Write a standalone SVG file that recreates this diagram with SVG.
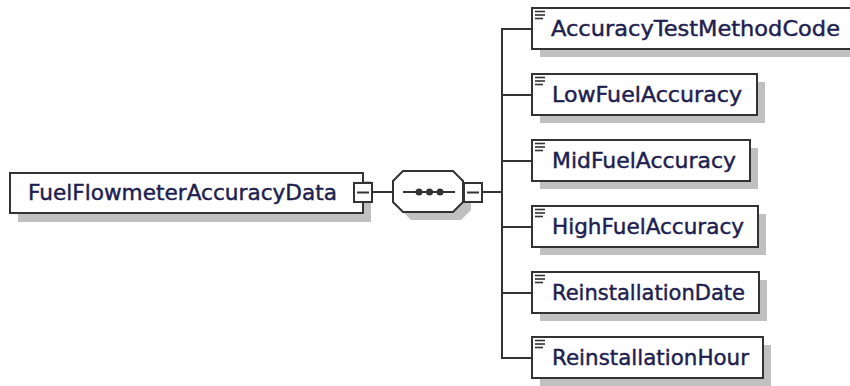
<svg xmlns="http://www.w3.org/2000/svg" width="850" height="386" viewBox="0 0 850 386">
<style>
.shadow{fill:#c0c0c0;stroke:none}
.box{fill:#ffffff;stroke:#333333;stroke-width:2}
.lbl{font-family:"DejaVu Sans",Verdana,sans-serif;font-size:21.5px;fill:#1e1e50;stroke:#1e1e50;stroke-width:0.45}
.ln{stroke:#333333;stroke-width:2;fill:none}
.icon{stroke:#333333;stroke-width:1.6}
</style>
<defs>
<g id="ico">
<line class="icon" x1="3" y1="3.5" x2="13" y2="3.5"/>
<line class="icon" x1="3" y1="7" x2="13" y2="7"/>
<line class="icon" x1="3" y1="10.5" x2="11" y2="10.5"/>
</g>
</defs>
<g id="connectors">
<line class="ln" x1="373" y1="192" x2="393" y2="192"/>
<line class="ln" x1="483" y1="192" x2="502" y2="192"/>
<line class="ln" x1="502" y1="28" x2="502" y2="359"/>
<line class="ln" x1="502" y1="29" x2="532" y2="29"/>
<line class="ln" x1="502" y1="95" x2="532" y2="95"/>
<line class="ln" x1="502" y1="161" x2="532" y2="161"/>
<line class="ln" x1="502" y1="227" x2="532" y2="227"/>
<line class="ln" x1="502" y1="293" x2="532" y2="293"/>
<line class="ln" x1="502" y1="358" x2="532" y2="358"/>
</g>
<g id="FuelFlowmeterAccuracyData">
<rect class="shadow" x="18" y="181" width="353" height="41"/>
<rect class="box" x="10" y="173" width="353" height="40"/>
<text class="lbl" x="28" y="200" textLength="309" lengthAdjust="spacingAndGlyphs">FuelFlowmeterAccuracyData</text>
<rect class="box" x="354" y="183" width="18" height="19"/>
<line class="ln" x1="357" y1="192.5" x2="369" y2="192.5"/>
</g>
<g id="sequence">
<polygon class="shadow" points="411,179 461,179 471,189 471,210 461,220 411,220 401,210 401,189"/>
<polygon class="box" points="403,171 453,171 463,181 463,202 453,212 403,212 393,202 393,181"/>
<line class="ln" x1="403" y1="192" x2="455" y2="192"/>
<circle cx="419" cy="192" r="3.5" fill="#333333"/>
<circle cx="429.5" cy="192" r="3.5" fill="#333333"/>
<circle cx="440" cy="192" r="3.5" fill="#333333"/>
<rect class="box" x="464" y="183" width="18" height="19"/>
<line class="ln" x1="467" y1="192.5" x2="479" y2="192.5"/>
</g>
<g id="AccuracyTestMethodCode">
<rect class="shadow" x="540" y="16" width="324" height="41"/>
<rect class="box" x="532" y="8" width="324" height="41"/>
<use href="#ico" x="532" y="8"/>
<text class="lbl" x="551" y="36" textLength="289" lengthAdjust="spacingAndGlyphs">AccuracyTestMethodCode</text>
</g>
<g id="LowFuelAccuracy">
<rect class="shadow" x="540" y="82" width="225" height="41"/>
<rect class="box" x="532" y="74" width="225" height="41"/>
<use href="#ico" x="532" y="74"/>
<text class="lbl" x="552" y="102" textLength="190" lengthAdjust="spacingAndGlyphs">LowFuelAccuracy</text>
</g>
<g id="MidFuelAccuracy">
<rect class="shadow" x="540" y="148" width="218" height="41"/>
<rect class="box" x="532" y="140" width="218" height="41"/>
<use href="#ico" x="532" y="140"/>
<text class="lbl" x="552" y="168" textLength="184" lengthAdjust="spacingAndGlyphs">MidFuelAccuracy</text>
</g>
<g id="HighFuelAccuracy">
<rect class="shadow" x="540" y="214" width="226" height="41"/>
<rect class="box" x="532" y="206" width="226" height="41"/>
<use href="#ico" x="532" y="206"/>
<text class="lbl" x="552" y="234" textLength="192" lengthAdjust="spacingAndGlyphs">HighFuelAccuracy</text>
</g>
<g id="ReinstallationDate">
<rect class="shadow" x="540" y="280" width="227" height="41"/>
<rect class="box" x="532" y="272" width="227" height="41"/>
<use href="#ico" x="532" y="272"/>
<text class="lbl" x="552" y="300" textLength="193" lengthAdjust="spacingAndGlyphs">ReinstallationDate</text>
</g>
<g id="ReinstallationHour">
<rect class="shadow" x="540" y="345" width="231" height="41"/>
<rect class="box" x="532" y="337" width="231" height="41"/>
<use href="#ico" x="532" y="337"/>
<text class="lbl" x="552" y="365" textLength="197" lengthAdjust="spacingAndGlyphs">ReinstallationHour</text>
</g>
</svg>
